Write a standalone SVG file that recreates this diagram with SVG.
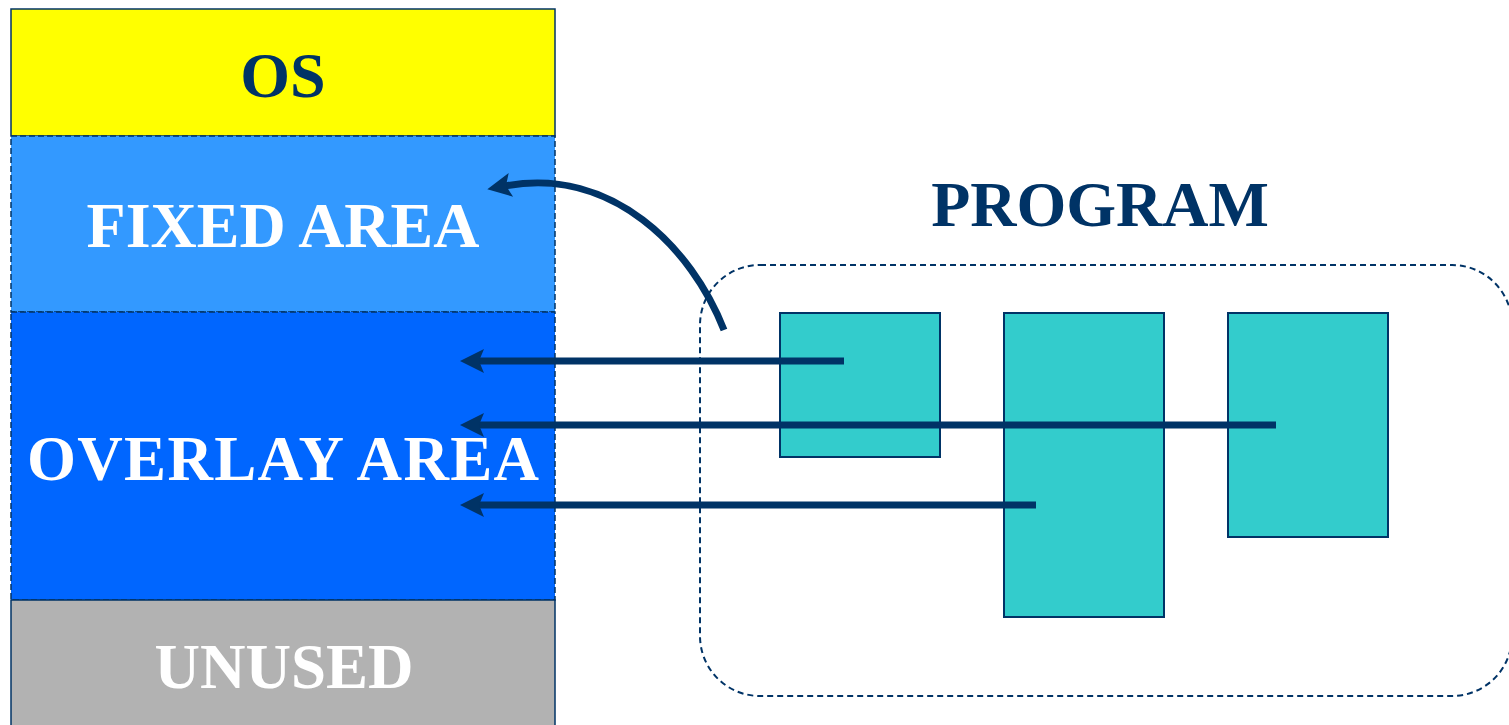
<svg xmlns="http://www.w3.org/2000/svg" width="1509" height="725" viewBox="0 0 1509 725">
  <style>
    .lbl { font-family: "Liberation Serif", "Times New Roman", serif; font-weight: bold; text-anchor: middle; }
    .navy { fill: #003366; }
    .white { fill: #FFFFFF; }
    .seg { stroke: #003366; stroke-width: 1.5; }
    .dash { stroke-dasharray: 6 3; }
    .page { fill: #33CCCC; stroke: #003366; stroke-width: 2; }
    .conn { fill: none; stroke: #003366; stroke-width: 7; }
  </style>
  <defs>
    <marker id="head" markerUnits="userSpaceOnUse" markerWidth="40" markerHeight="40" viewBox="-10 -20 40 40" refX="0" refY="0" orient="auto">
      <path d="M18,0 L-6,-12 L-1,0 L-6,12 Z" fill="#003366"/>
    </marker>
  </defs>
  <rect width="1509" height="725" fill="#FFFFFF"/>

  <g id="os">
    <rect x="11" y="9" width="544" height="127" fill="#FFFF00" class="seg"/>
    <text x="283" y="97" class="lbl navy" font-size="64">OS</text>
  </g>
  <g id="fixed-area">
    <rect x="11" y="136" width="544" height="176" fill="#3399FF" class="seg dash"/>
    <text x="283" y="247" class="lbl white" font-size="64">FIXED AREA</text>
  </g>
  <g id="overlay-area">
    <rect x="11" y="312" width="544" height="288" fill="#0066FF" class="seg dash"/>
    <text x="283" y="480" class="lbl white" font-size="63" textLength="512" lengthAdjust="spacing">OVERLAY AREA</text>
  </g>
  <g id="unused">
    <rect x="11" y="600" width="544" height="130" fill="#B2B2B2" class="seg"/>
    <text x="284" y="688" class="lbl white" font-size="63">UNUSED</text>
  </g>

  <g id="program">
    <rect x="700" y="265" width="812" height="431" rx="60" ry="60" fill="none" stroke="#003366" stroke-width="2" stroke-dasharray="6 4"/>
    <text x="1100" y="226" class="lbl navy" font-size="64">PROGRAM</text>
  </g>
  <g id="module-1">
    <rect x="780" y="313" width="160" height="144" class="page"/>
  </g>
  <g id="module-2">
    <rect x="1004" y="313" width="160" height="304" class="page"/>
  </g>
  <g id="module-3">
    <rect x="1228" y="313" width="160" height="224" class="page"/>
  </g>

  <g id="connectors">
    <path class="conn" d="M844,361 L478,361" marker-end="url(#head)"/>
    <path class="conn" d="M1276,425 L478,425" marker-end="url(#head)"/>
    <path class="conn" d="M1036,505 L478,505" marker-end="url(#head)"/>
    <path class="conn" d="M724,330 C692,248 612,166 505,186" marker-end="url(#head)"/>
  </g>
</svg>
